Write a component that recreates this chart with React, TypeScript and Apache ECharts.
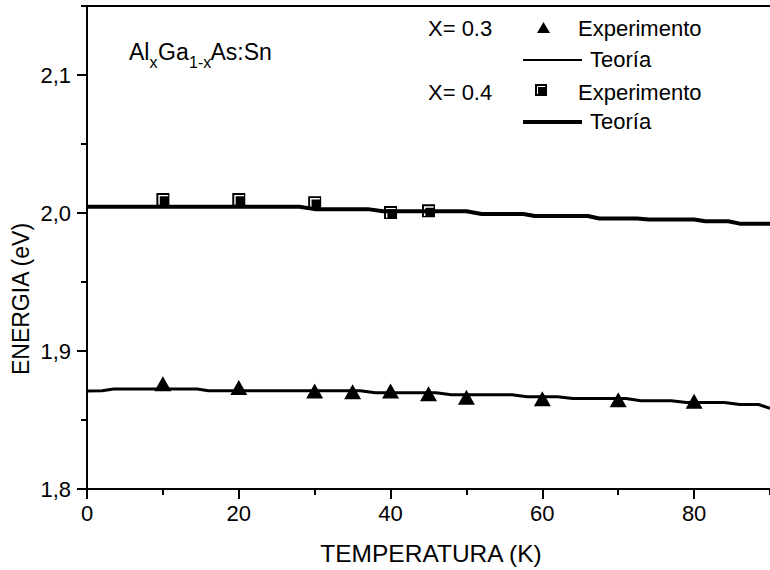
import React, { useEffect, useRef } from 'react';
import * as echarts from 'echarts';

// Axis ranges / tick steps
const xRange = [0, 90];
const xMajorStep = 20;
const xMinorStep = 10;
const yRange = [1.8, 2.15];
const yMajorStep = 0.1;
const yMinorStep = 0.05;

// X = 0.3 experiment (triangles)
const expX03T = [10, 20, 30, 35, 40, 45, 50, 60, 70, 80];
const expX03E = [1.8763, 1.8736, 1.8711, 1.8705, 1.8711, 1.869, 1.8664, 1.8654, 1.8646, 1.8635];

// X = 0.4 experiment (squares)
const expX04T = [10, 20, 30, 40, 45];
const expX04E = [2.0098, 2.0098, 2.0075, 2.0004, 2.0016];

// X = 0.3 theory
const thX03T = [0, 2, 3.5, 14.5, 16, 36, 38, 46, 48, 56, 58, 62, 64, 71, 73, 77, 79, 84, 86, 88.5, 90];
const thX03E = [1.871, 1.8712, 1.8725, 1.8725, 1.8712, 1.8712, 1.8698, 1.8698, 1.8683, 1.8683, 1.8668, 1.8668, 1.8655, 1.8655, 1.864, 1.864, 1.8627, 1.8627, 1.8612, 1.8612, 1.8585];

// X = 0.4 theory
const thX04T = [0, 28, 30, 37, 39, 50, 52, 57.5, 59, 66, 67.5, 72.5, 74, 80, 81.5, 84.5, 86, 90];
const thX04E = [2.0045, 2.0045, 2.0028, 2.0028, 2.0012, 2.0012, 1.9993, 1.9993, 1.9978, 1.9978, 1.996, 1.996, 1.9953, 1.9953, 1.994, 1.994, 1.9923, 1.9923];

const FONT = "'Liberation Sans', Arial, sans-serif";
const SQUARE_PATH = 'path://M0,0L10,0L10,10L0,10Z M1.5,1.5L1.5,9L2.6,9L2.6,2.6L9,2.6L9,1.5Z';

const GRID = { left: 87, top: 6, right: -5.5, bottom: 81 };
const W = 770;
const H = 570;

const zip = (a: number[], b: number[]) => a.map((v, i) => [v, b[i]]);

export default function App() {
  const ref = useRef<HTMLDivElement>(null);
  useEffect(() => {
    if (!ref.current) return;
    const chart = echarts.init(ref.current, null, { renderer: 'svg' });
    const black = '#000';
    const txt = (text: string, x: number, y: number, size = 22, align = 'left') => ({
      type: 'text',
      x,
      y,
      style: { text, fill: black, font: `${size}px ${FONT}`, align, verticalAlign: 'middle' },
      z: 10,
    });
    const tickAxis = (range: number[], interval: number, position: string, len: number) => ({
      type: 'value',
      min: range[0],
      max: range[1],
      interval,
      position,
      splitLine: { show: false },
      axisLine: { show: false, onZero: false },
      axisTick: { show: true, inside: false, length: len, lineStyle: { color: black, width: 2 } },
      axisLabel: { show: false },
    });

    chart.setOption({
      animation: false,
      backgroundColor: '#fff',
      grid: { ...GRID, show: false },
      xAxis: [
        {
          type: 'value',
          min: xRange[0],
          max: xRange[1],
          interval: xMajorStep,
          position: 'bottom',
          splitLine: { show: false },
          axisLine: { show: true, onZero: false, lineStyle: { color: black, width: 2 } },
          axisTick: { show: true, inside: false, length: 10, lineStyle: { color: black, width: 2 } },
          axisLabel: { show: true, color: black, fontSize: 22, fontFamily: FONT, margin: 13, showMaxLabel: false },
        },
        tickAxis(xRange, xMinorStep, 'bottom', 6),
        {
          type: 'value',
          min: xRange[0],
          max: xRange[1],
          position: 'top',
          splitLine: { show: false },
          axisLine: { show: true, onZero: false, lineStyle: { color: black, width: 2 } },
          axisTick: { show: false },
          axisLabel: { show: false },
        },
      ],
      yAxis: [
        {
          type: 'value',
          min: yRange[0],
          max: yRange[1],
          interval: yMajorStep,
          position: 'left',
          splitLine: { show: false },
          axisLine: { show: true, onZero: false, lineStyle: { color: black, width: 2 } },
          axisTick: { show: true, inside: false, length: 10, lineStyle: { color: black, width: 2 } },
          axisLabel: {
            show: true,
            color: black,
            fontSize: 22,
            fontFamily: FONT,
            margin: 16,
            showMaxLabel: false,
            formatter: (v: number) => v.toFixed(1).replace('.', ','),
          },
        },
        tickAxis(yRange, yMinorStep, 'left', 6),
      ],
      series: [
        {
          name: 'Teoría X=0.4',
          type: 'line',
          data: zip(thX04T, thX04E),
          showSymbol: false,
          lineStyle: { color: black, width: 4 },
          z: 2,
        },
        {
          name: 'Teoría X=0.3',
          type: 'line',
          data: zip(thX03T, thX03E),
          showSymbol: false,
          lineStyle: { color: black, width: 3 },
          z: 2,
        },
        {
          name: 'Experimento X=0.3',
          type: 'scatter',
          data: zip(expX03T, expX03E),
          symbol: 'triangle',
          symbolSize: [17, 15],
          itemStyle: { color: black, opacity: 1 },
          z: 3,
        },
        {
          name: 'Experimento X=0.4',
          type: 'scatter',
          data: zip(expX04T, expX04E),
          symbol: SQUARE_PATH,
          symbolSize: 13,
          itemStyle: { color: black, opacity: 1 },
          z: 3,
        },
      ],
      graphic: [
        // Axis titles
        txt('TEMPERATURA (K)', 431, 553, 24.5, 'center'),
        {
          type: 'text',
          x: 21,
          y: 299,
          rotation: Math.PI / 2,
          style: { text: 'ENERGIA (eV)', fill: black, font: `23px ${FONT}`, align: 'center', verticalAlign: 'middle' },
        },
        // Compound label
        txt('Al', 129, 52, 23),
        txt('x', 149.5, 62, 16),
        txt('Ga', 158, 52, 23),
        txt('1-x', 189, 62, 16),
        txt('As:Sn', 210.5, 52, 23),
        // Legend
        txt('X= 0.3', 428, 28),
        {
          type: 'polygon',
          shape: { points: [[537, 33], [543.5, 22], [550, 33]] },
          style: { fill: black },
        },
        txt('Experimento', 578, 28),
        { type: 'line', shape: { x1: 523, y1: 60, x2: 582, y2: 60 }, style: { stroke: black, lineWidth: 2 } },
        txt('Teoría', 590, 59.5),
        txt('X= 0.4', 428, 92),
        { type: 'rect', shape: { x: 535, y: 84, width: 12, height: 12 }, style: { fill: black } },
        {
          type: 'polyline',
          shape: { points: [[537.5, 94], [537.5, 86.5], [545, 86.5]] },
          style: { stroke: '#fff', lineWidth: 1, fill: 'none' },
        },
        txt('Experimento', 578, 92),
        { type: 'line', shape: { x1: 523, y1: 122, x2: 582, y2: 122 }, style: { stroke: black, lineWidth: 4 } },
        txt('Teoría', 590, 121.5),
      ],
    });

    return () => chart.dispose();
  }, []);
  return (
    <div
      ref={ref}
      style={{ position: 'absolute', left: 0, top: 0, width: W, height: H, background: '#fff' }}
    />
  );
}
